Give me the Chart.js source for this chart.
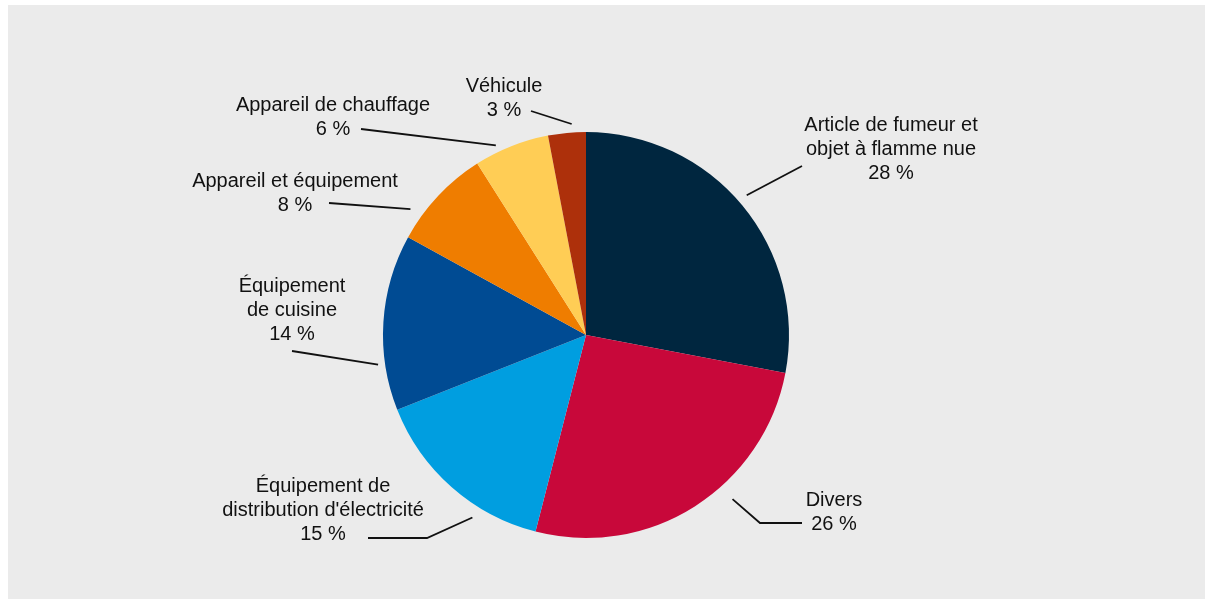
<!DOCTYPE html>
<html>
<head>
<meta charset="utf-8">
<script src="https://cdn.jsdelivr.net/npm/chart.js@4.4.0/dist/chart.umd.min.js"></script>
<style>
  html, body { margin: 0; padding: 0; background: #ffffff; }
  #fond { position: absolute; left: 8px; top: 5px; width: 1197px; height: 594px; background: #ebebeb; }
  #wrap { position: absolute; left: 0; top: 0; width: 1206px; height: 599px; }
</style>
</head>
<body>
<div id="fond"></div>
<div id="wrap"><canvas id="myChart" width="1206" height="599"></canvas></div>
<script>
// donnees du graphique (parts en %)
const categories = [
  ['Article de fumeur et', 'objet à flamme nue'],
  ['Divers'],
  ['Équipement de', "distribution d'électricité"],
  ['Équipement', 'de cuisine'],
  ['Appareil et équipement'],
  ['Appareil de chauffage'],
  ['Véhicule']
];
const parts = [28, 26, 15, 14, 8, 6, 3];
const couleurs = ['#00263f', '#c8083a', '#009ee0', '#004b93', '#ef7d00', '#ffcd55', '#ad300b'];

// position des etiquettes, relative au centre du camembert
// t = position dans la part (0..1), gap = distance au bord, pts = coude/fin du trait, tx/ty = texte
const etiquettes = [
  { t: 0.486, gap: 10, pts: [[216, -169]], tx: 305, ty: -204 },
  { t: 0.40, gap: 17, pts: [[174, 188], [216, 188]], tx: 248, ty: 171 },
  { t: 0.324, gap: 12, pts: [[-159, 203], [-218, 203]], tx: -263, ty: 157 },
  { t: 0.268, gap: 7, pts: [[-294, 16]], tx: -294, ty: -43 },
  { t: 0.237, gap: 13, pts: [[-257, -132]], tx: -291, ty: -148 },
  { t: 0.323, gap: 7, pts: [[-225, -206]], tx: -253, ty: -224 },
  { t: 0.64, gap: 8.5, pts: [[-55, -224]], tx: -82, ty: -243 }
];

// plugin pour dessiner les traits et les textes
const etiquettesPlugin = {
  id: 'etiquettes',
  afterDraw(chart) {
    const ctx = chart.ctx;
    const meta = chart.getDatasetMeta(0);
    ctx.save();
    ctx.strokeStyle = '#111111';
    ctx.lineWidth = 1.8;
    ctx.fillStyle = '#111111';
    ctx.font = '20px "Liberation Sans", Arial, sans-serif';
    ctx.textAlign = 'center';
    ctx.textBaseline = 'alphabetic';
    meta.data.forEach((arc, i) => {
      const e = etiquettes[i];
      const cx = arc.x, cy = arc.y;
      const ang = arc.startAngle + (arc.endAngle - arc.startAngle) * e.t;
      const r = arc.outerRadius + e.gap;
      ctx.beginPath();
      ctx.moveTo(cx + Math.cos(ang) * r, cy + Math.sin(ang) * r);
      e.pts.forEach(p => ctx.lineTo(cx + p[0], cy + p[1]));
      ctx.stroke();
      const lignes = categories[i].concat([parts[i] + ' %']);
      lignes.forEach((txt, k) => {
        ctx.fillText(txt, cx + e.tx, cy + e.ty + k * 23.8);
      });
    });
    ctx.restore();
  }
};

new Chart(document.getElementById('myChart'), {
  type: 'pie',
  data: {
    labels: categories.map(c => c.join(' ')),
    datasets: [{
      data: parts,
      backgroundColor: couleurs,
      borderWidth: 0,
      hoverOffset: 0,
      offset: 0
    }]
  },
  options: {
    responsive: false,
    animation: false,
    layout: { padding: { top: 132, bottom: 61, left: 0, right: 34 } },
    plugins: {
      legend: { display: false },
      tooltip: { enabled: false }
    }
  },
  plugins: [etiquettesPlugin]
});
</script>
</body>
</html>
